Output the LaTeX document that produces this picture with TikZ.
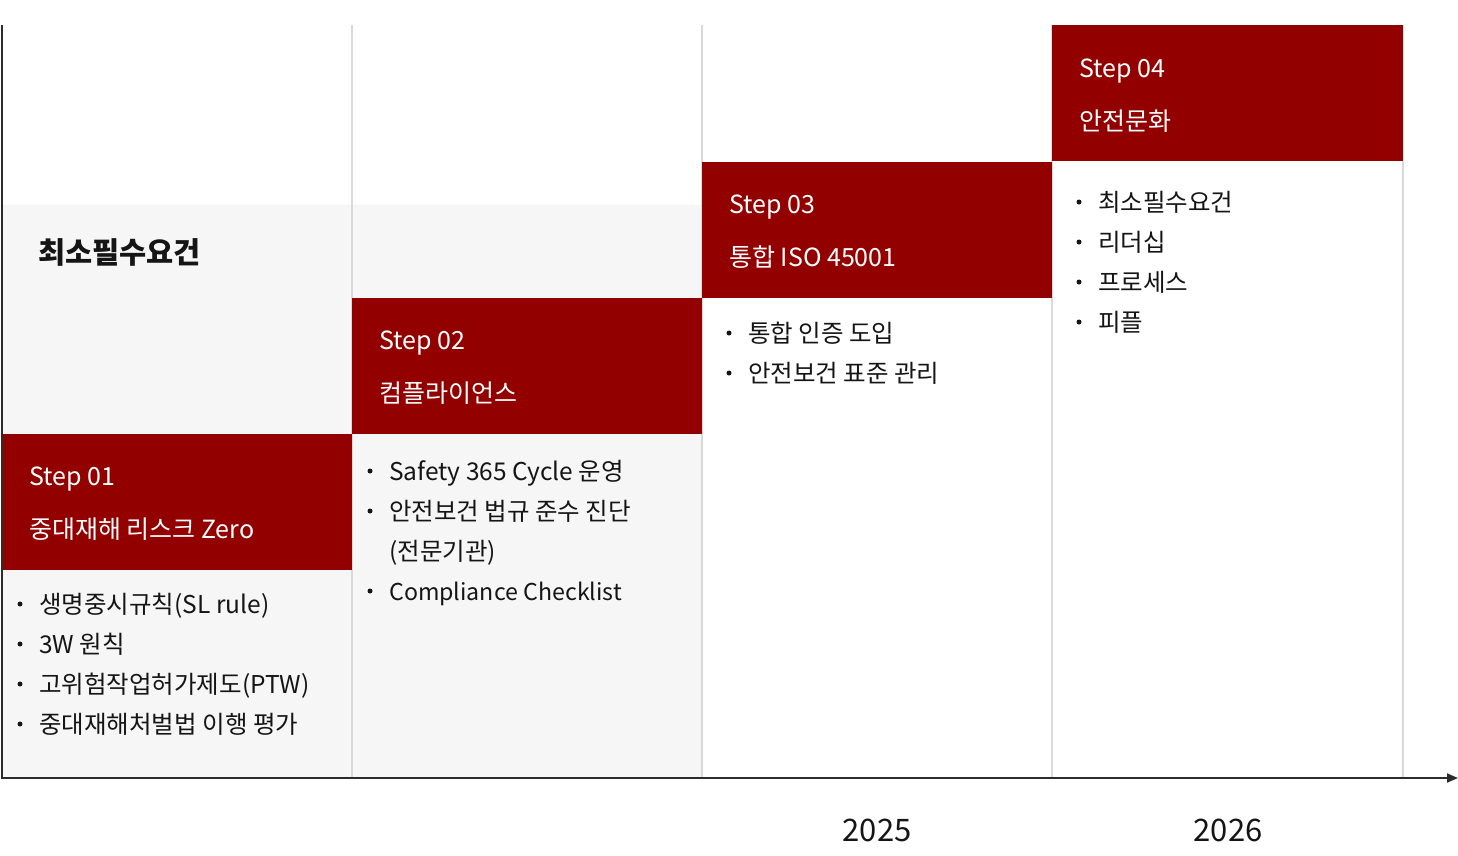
\documentclass[tikz,border=0pt]{standalone}
\usepackage{fontspec}
\setmainfont{Noto Sans CJK KR}
\usetikzlibrary{arrows.meta}
\definecolor{stepred}{HTML}{920000}
\definecolor{bggrey}{HTML}{F6F6F6}
\definecolor{colline}{HTML}{D9D9D9}
\definecolor{ink}{HTML}{151515}
\tikzset{
  stepbox/.style={fill=stepred, draw=none, anchor=north west, minimum width=350pt, minimum height=136pt, inner sep=0pt},
  greybg/.style={fill=bggrey, draw=none},
  colrule/.style={draw=colline, line width=1.2pt},
  axisline/.style={draw=ink!90, line width=2pt},
  steptxt/.style={anchor=base west, text=white, inner sep=0pt, font=\fontsize{25}{29}\selectfont},
  itemtxt/.style={anchor=base west, text=ink, inner sep=0pt, font=\fontsize{24.5}{28}\selectfont},
  bul/.style={circle, fill=ink, inner sep=0pt, minimum size=5pt},
  headtxt/.style={anchor=base west, text=ink, inner sep=0pt, font=\fontsize{29.5}{33}\selectfont\bfseries},
  yeartxt/.style={anchor=base, text=ink, inner sep=0pt, font=\fontsize{31}{35}\selectfont},
}
\begin{document}
\begin{tikzpicture}[x=1pt,y=-1pt]
\useasboundingbox (0,0) rectangle (1458,855);
% grey backgrounds
\fill[greybg] (2,205) rectangle (702,778);
% column rules
\coordinate (c1t) at (352,25); \coordinate (c1b) at (352,778);
\coordinate (c2t) at (702,25); \coordinate (c2b) at (702,778);
\coordinate (c3t) at (1052,25); \coordinate (c3b) at (1052,778);
\coordinate (c4t) at (1403,25); \coordinate (c4b) at (1403,778);
\draw[colrule] (c1t) -- (c1b);
\draw[colrule] (c2t) -- (c2b);
\draw[colrule] (c3t) -- (c3b);
\draw[colrule] (c4t) -- (c4b);
% step boxes
\node[stepbox] (s1) at (2,434) {};
\node[stepbox] (s2) at (352,298) {};
\node[stepbox] (s3) at (702,162) {};
\node[stepbox, minimum width=351pt] (s4) at (1052,25) {};
% axes
\coordinate (atop) at (1.5,25);
\coordinate (aorig) at (1.5,778);
\coordinate (aend) at (1458,778);
\draw[axisline, -{Triangle[length=11pt,width=9pt]}] (atop) -- (aorig) -- (aend);
% heading
\node[headtxt] (head) at (38,263) {최소필수요건};
% step texts
\node[steptxt] (s1a) at (29,485) {Step 01};
\node[steptxt] (s1b) at (29,538) {중대재해 리스크 Zero};
\node[steptxt] (s2a) at (379,349) {Step 02};
\node[steptxt] (s2b) at (379,402) {컴플라이언스};
\node[steptxt] (s3a) at (729,213) {Step 03};
\node[steptxt] (s3b) at (729,266) {통합 ISO 45001};
\node[steptxt] (s4a) at (1079,77) {Step 04};
\node[steptxt] (s4b) at (1079,130) {안전문화};
% column 1 items
\node[bul] (b11) at (20,604) {}; \node[itemtxt] (i11) at (39,613) {생명중시규칙(SL rule)};
\node[bul] (b12) at (20,644) {}; \node[itemtxt] (i12) at (39,653) {3W 원칙};
\node[bul] (b13) at (20,684) {}; \node[itemtxt] (i13) at (39,693) {고위험작업허가제도(PTW)};
\node[bul] (b14) at (20,724) {}; \node[itemtxt] (i14) at (39,733) {중대재해처벌법 이행 평가};
% column 2 items
\node[bul] (b21) at (370,471) {}; \node[itemtxt] (i21) at (389,480) {Safety 365 Cycle 운영};
\node[bul] (b22) at (370,511) {}; \node[itemtxt] (i22) at (389,520) {안전보건 법규 준수 진단};
\node[itemtxt] (i22b) at (389,560) {(전문기관)};
\node[bul] (b23) at (370,591) {}; \node[itemtxt, font=\fontsize{23.2}{27}\selectfont] (i23) at (389,600) {Compliance Checklist};
% column 3 items
\node[bul] (b31) at (729,333) {}; \node[itemtxt] (i31) at (748,342) {통합 인증 도입};
\node[bul] (b32) at (729,373) {}; \node[itemtxt] (i32) at (748,382) {안전보건 표준 관리};
% column 4 items
\node[bul] (b41) at (1079,202) {}; \node[itemtxt] (i41) at (1098,211) {최소필수요건};
\node[bul] (b42) at (1079,242) {}; \node[itemtxt] (i42) at (1098,251) {리더십};
\node[bul] (b43) at (1079,282) {}; \node[itemtxt] (i43) at (1098,291) {프로세스};
\node[bul] (b44) at (1079,322) {}; \node[itemtxt] (i44) at (1098,331) {피플};
% years
\node[yeartxt] (y25) at (877,841) {2025};
\node[yeartxt] (y26) at (1228,841) {2026};
\end{tikzpicture}
\end{document}
